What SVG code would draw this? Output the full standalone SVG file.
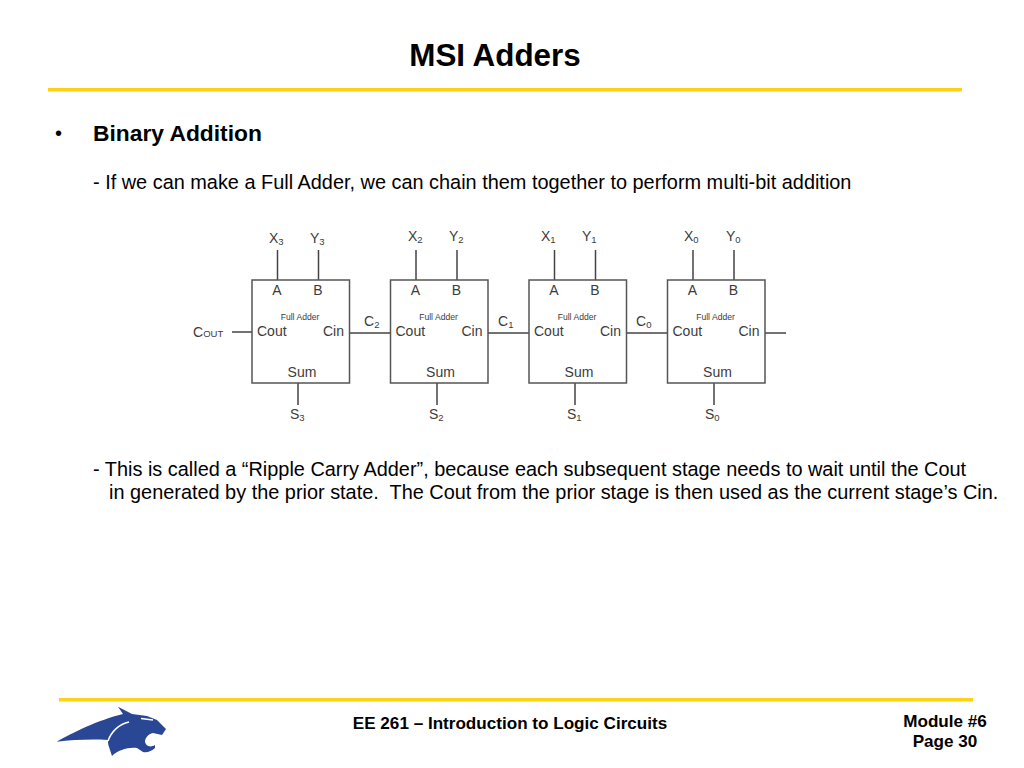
<svg xmlns="http://www.w3.org/2000/svg" width="1024" height="768" viewBox="0 0 1024 768">
<style>
text{font-family:"Liberation Sans",Arial,sans-serif;fill:#000}
.b{font-weight:700}
.t{font-size:19.9px;white-space:pre}
.d text{fill:#3c3c3c;font-size:14px}
.d .s{font-size:9.5px}
.d .f{font-size:8.6px}
.box{fill:#fff;stroke:#555;stroke-width:1.5}
.w{stroke:#444;stroke-width:1.5;fill:none}
.rule{fill:#fcd116}
</style>
<rect width="1024" height="768" fill="#fff"/>
<text class="b" x="495" y="66" font-size="31.400" text-anchor="middle">MSI Adders</text>
<rect class="rule" x="48" y="88" width="914" height="3.500"/>
<text x="55" y="140" font-size="20">•</text>
<text class="b" x="93" y="141" font-size="22.800">Binary Addition</text>
<text class="t" x="93" y="189">- If we can make a Full Adder, we can chain them together to perform multi-bit addition</text>
<g class="d">
<g id="connectors" class="w">
<path d="M277.500 250V280M318.500 250V280M298 383V405M232 332H252M350 333H390"/>
<path d="M416 250V280M457 250V280M437 383V405M488 333H529"/>
<path d="M554.500 250V280M595.500 250V280M575 383V405M627 333H667"/>
<path d="M693 250V280M734 250V280M714 383V405M765 333H786"/>
</g>
<g id="fa3"><rect class="box" x="252" y="280" width="97.500" height="103"/>
<text x="277" y="295" text-anchor="middle">A</text><text x="318" y="295" text-anchor="middle">B</text>
<text class="f" x="300" y="320" text-anchor="middle">Full Adder</text>
<text x="257" y="336">Cout</text><text x="323" y="336">Cin</text><text x="302" y="377" text-anchor="middle">Sum</text></g>
<g id="fa2"><rect class="box" x="390.500" y="280" width="97.500" height="103"/>
<text x="415.500" y="295" text-anchor="middle">A</text><text x="456.500" y="295" text-anchor="middle">B</text>
<text class="f" x="438.500" y="320" text-anchor="middle">Full Adder</text>
<text x="395.500" y="336">Cout</text><text x="461.500" y="336">Cin</text><text x="440.500" y="377" text-anchor="middle">Sum</text></g>
<g id="fa1"><rect class="box" x="529" y="280" width="97.500" height="103"/>
<text x="554" y="295" text-anchor="middle">A</text><text x="595" y="295" text-anchor="middle">B</text>
<text class="f" x="577" y="320" text-anchor="middle">Full Adder</text>
<text x="534" y="336">Cout</text><text x="600" y="336">Cin</text><text x="579" y="377" text-anchor="middle">Sum</text></g>
<g id="fa0"><rect class="box" x="667.500" y="280" width="97.500" height="103"/>
<text x="692.500" y="295" text-anchor="middle">A</text><text x="733.500" y="295" text-anchor="middle">B</text>
<text class="f" x="715.500" y="320" text-anchor="middle">Full Adder</text>
<text x="672.500" y="336">Cout</text><text x="738.500" y="336">Cin</text><text x="717.500" y="377" text-anchor="middle">Sum</text></g>
<text x="269" y="243">X<tspan class="s" dy="2">3</tspan></text>
<text x="310" y="243">Y<tspan class="s" dy="2">3</tspan></text>
<text x="408" y="241">X<tspan class="s" dy="2">2</tspan></text>
<text x="449" y="241">Y<tspan class="s" dy="2">2</tspan></text>
<text x="541" y="241">X<tspan class="s" dy="2">1</tspan></text>
<text x="582" y="241">Y<tspan class="s" dy="2">1</tspan></text>
<text x="684" y="241">X<tspan class="s" dy="2">0</tspan></text>
<text x="726" y="241">Y<tspan class="s" dy="2">0</tspan></text>
<text x="193" y="337">C<tspan class="s" dy="0">OUT</tspan></text>
<text x="364" y="326">C<tspan class="s" dy="2">2</tspan></text>
<text x="498" y="326">C<tspan class="s" dy="2">1</tspan></text>
<text x="636" y="326">C<tspan class="s" dy="2">0</tspan></text>
<text x="290" y="419">S<tspan class="s" dy="2">3</tspan></text>
<text x="429" y="419">S<tspan class="s" dy="2">2</tspan></text>
<text x="567" y="419">S<tspan class="s" dy="2">1</tspan></text>
<text x="705" y="419">S<tspan class="s" dy="2">0</tspan></text>
</g>
<text class="t" x="93" y="476">- This is called a “Ripple Carry Adder”, because each subsequent stage needs to wait until the Cout</text>
<text class="t" x="109" y="499" xml:space="preserve">in generated by the prior state.  The Cout from the prior stage is then used as the current stage’s Cin.</text>
<rect class="rule" x="59" y="698" width="914" height="3.500"/>
<g id="logo">
<path fill="#2a4796" d="M56.700 741.700C72 733 98 720 123 714L118 706.700L132 714L147 716L157 720L166 729L162 735L153 733C148 734 145 738 145 742C146 746 150 748 155 745L155 748C152 751 147 753 143 752L137 748C128 747 118 750 112 756L109 747C108 745 108 742 108 740C90 739 72 740 56.700 741.700Z"/>
<path fill="none" stroke="#fff" stroke-width="1.500" d="M108 741C111 732 119 724 129 722M141 718.500L153 720"/>
</g>
<text class="b" x="510" y="729" font-size="17.100" text-anchor="middle">EE 261 – Introduction to Logic Circuits</text>
<text class="b" x="945" y="727" font-size="17.100" text-anchor="middle">Module #6</text>
<text class="b" x="945" y="747" font-size="17.100" text-anchor="middle">Page 30</text>
</svg>
